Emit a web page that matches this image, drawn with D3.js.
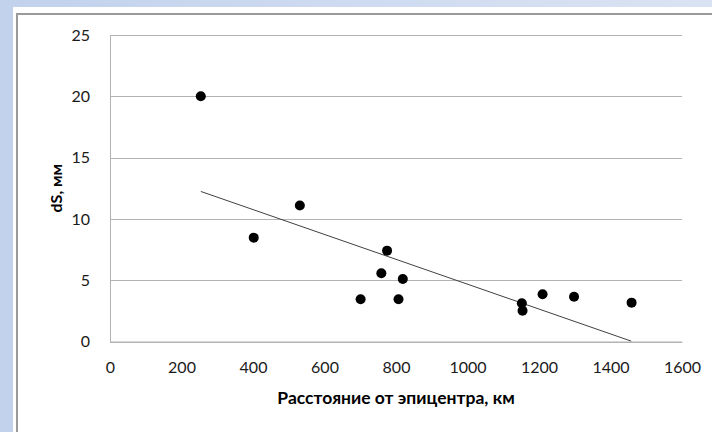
<!DOCTYPE html>
<html>
<head>
<meta charset="utf-8">
<script src="https://cdn.jsdelivr.net/npm/d3@7"></script>
<style>
  html, body { margin: 0; padding: 0; }
  body { width: 712px; height: 432px; overflow: hidden; background: #ffffff; }
  svg { display: block; }
  text { font-family: Lato, "Open Sans", "DejaVu Sans", sans-serif; }
</style>
</head>
<body>
<svg id="chart" width="712" height="432"></svg>
<script>
// Data
const distanceKm = [254, 531, 402, 701, 775, 759, 819, 807, 1152, 1154, 1210, 1298, 1459];
const dsMm       = [20.0, 11.1, 8.47, 3.44, 7.41, 5.56, 5.10, 3.44, 3.12, 2.51, 3.85, 3.65, 3.17];
const trendX = [254, 1458];
const trendY = [12.24, 0.03];
const xTicks = [0, 200, 400, 600, 800, 1000, 1200, 1400, 1600];
const yTicks = [0, 5, 10, 15, 20, 25];
const xTitle = "Расстояние от эпицентра, км";
const yTitle = "dS, мм";

const svg = d3.select("#chart");

// slide-like background
const defs = svg.append("defs");
const grad = defs.append("linearGradient").attr("id", "bg").attr("x1", "0").attr("x2", "1").attr("y1", "0").attr("y2", "0");
grad.append("stop").attr("offset", "0").attr("stop-color", "#c2d2ed");
grad.append("stop").attr("offset", "1").attr("stop-color", "#dae3f3");
svg.append("rect").attr("x", 0).attr("y", 0).attr("width", 712).attr("height", 432).attr("fill", "url(#bg)");
svg.append("rect").attr("x", 13).attr("y", 7).attr("width", 712).attr("height", 432).attr("fill", "#ffffff");
svg.append("path").attr("d", "M17,432 V14 H712").attr("fill", "none").attr("stroke", "#9a9a9a").attr("stroke-width", 2);

const x = d3.scaleLinear().domain([0, 1600]).range([110, 682]);
const y = d3.scaleLinear().domain([0, 25]).range([341.5, 35]);

// gridlines
svg.append("g")
  .selectAll("line").data(yTicks).join("line")
  .attr("x1", x(0)).attr("x2", x(1600))
  .attr("y1", d => Math.round(y(d)) + 0.5).attr("y2", d => Math.round(y(d)) + 0.5)
  .attr("stroke", "#b3b3b3").attr("stroke-width", 1);

// y axis
const yAxis = svg.append("g").attr("transform", `translate(${x(0)},0)`)
  .call(d3.axisLeft(y).tickValues(yTicks).tickSize(0).tickPadding(20).tickFormat(d3.format("d")));
yAxis.select(".domain").attr("stroke", "#b3b3b3");
yAxis.selectAll("text").attr("font-size", 16).attr("fill", "#1a1a1a")
  .style("font-family", "Lato, 'Open Sans', sans-serif");

// x axis
const xAxis = svg.append("g").attr("transform", `translate(0,${y(0)})`)
  .call(d3.axisBottom(x).tickValues(xTicks).tickSize(0).tickPadding(20).tickFormat(d3.format("d")));
xAxis.select(".domain").attr("stroke", "#b3b3b3");
xAxis.selectAll("text").attr("font-size", 16).attr("fill", "#1a1a1a")
  .style("font-family", "Lato, 'Open Sans', sans-serif");

// trend line
const line = d3.line().x(d => x(d[0])).y(d => y(d[1]));
svg.append("path")
  .datum(d3.zip(trendX, trendY))
  .attr("d", line)
  .attr("fill", "none").attr("stroke", "#404040").attr("stroke-width", 1);

// points
svg.append("g").selectAll("circle")
  .data(d3.zip(distanceKm, dsMm)).join("circle")
  .attr("cx", d => x(d[0])).attr("cy", d => y(d[1]))
  .attr("r", 5).attr("fill", "#000000");

// axis titles
svg.append("text")
  .attr("x", (x(0) + x(1600)) / 2).attr("y", 404)
  .attr("text-anchor", "middle").attr("font-size", 17.5).attr("font-weight", "bold").attr("fill", "#000")
  .text(xTitle);
svg.append("text")
  .attr("transform", `translate(62,${(y(0) + y(25)) / 2}) rotate(-90)`)
  .attr("text-anchor", "middle").attr("font-size", 16).attr("font-weight", "bold").attr("fill", "#000")
  .text(yTitle);
</script>
</body>
</html>
